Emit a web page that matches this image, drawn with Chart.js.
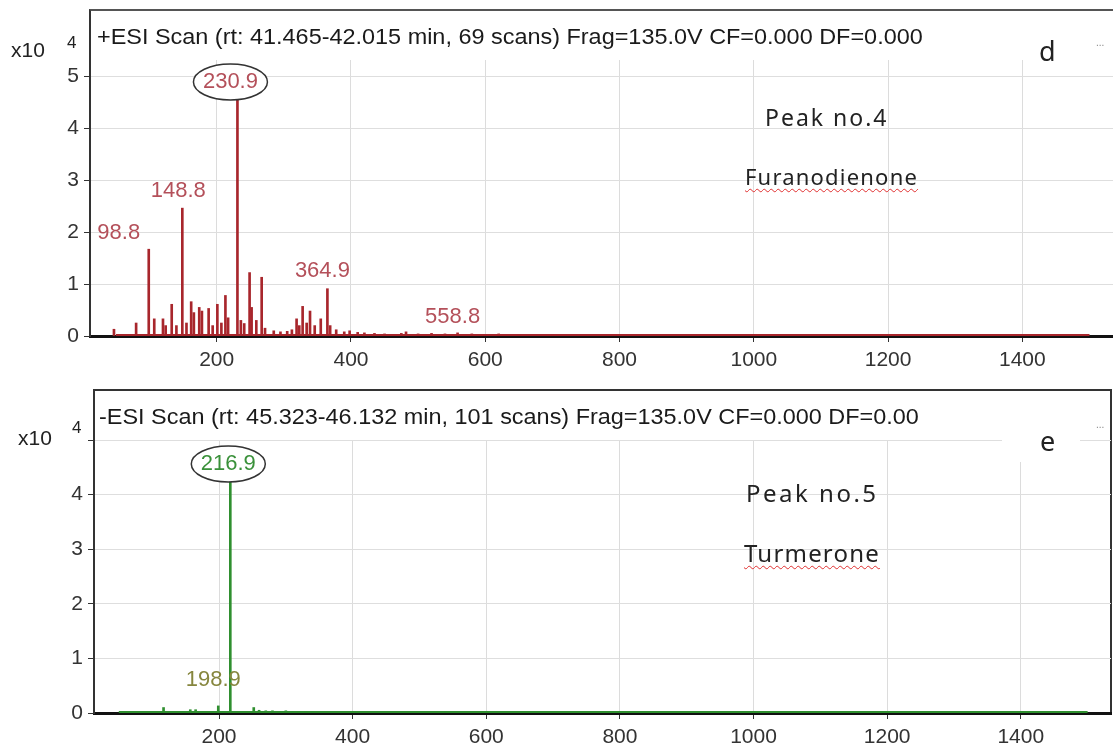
<!DOCTYPE html>
<html>
<head>
<meta charset="utf-8">
<script src="https://cdn.jsdelivr.net/npm/chart.js@4.4.1/dist/chart.umd.min.js"></script>
<style>
  body { margin: 0; background: #fff; width: 1113px; height: 756px; overflow: hidden; position: relative; font-family: "Liberation Sans", Arial, sans-serif; color: #222; }
  canvas { position: absolute; left: 0; }
  .box { position: absolute; box-sizing: border-box; }
  .txt { position: absolute; white-space: nowrap; line-height: 1; }
  .title { font-size: 22px; transform: scaleX(1.065); transform-origin: left center; color: #1a1a1a; }
  .note { font-family: "Noto Sans", sans-serif; color: #222; }
  .wavy { text-decoration: underline wavy #e03030; text-decoration-thickness: 1px; text-underline-offset: 3px; }
</style>
</head>
<body>
<div class="box" style="left:89px;top:9px;width:1040px;height:328px;border-top:2px solid #555;border-left:2px solid #333;"></div>
<div class="box" style="left:93px;top:389px;width:1019px;height:326px;border:2px solid #333;border-bottom:none;"></div>

<canvas id="chartTop" width="1113" height="376" style="top:0"></canvas>
<canvas id="chartBottom" width="1113" height="376" style="top:380px"></canvas>

<div class="txt title" style="left:97px;top:26px;">+ESI Scan (rt: 41.465-42.015 min, 69 scans) Frag=135.0V CF=0.000 DF=0.000</div>
<div class="txt title" style="left:99px;top:406px;">-ESI Scan (rt: 45.323-46.132 min, 101 scans) Frag=135.0V CF=0.000 DF=0.00</div>

<div class="txt" style="left:11px;top:39px;font-size:21px;">x10</div>
<div class="txt" style="left:67px;top:34px;font-size:17px;">4</div>
<div class="txt" style="left:18px;top:427px;font-size:21px;">x10</div>
<div class="txt" style="left:72px;top:419px;font-size:17px;">4</div>

<div class="txt" style="left:1039px;top:37px;font-size:27px;font-family:'Noto Sans',sans-serif;">d</div>
<div class="txt" style="left:1096px;top:38px;font-size:10px;color:#888;">...</div>
<div class="txt" style="left:1002px;top:420px;width:78px;height:42px;background:#fff;"></div>
<div class="txt" style="left:1040px;top:427px;font-size:27px;font-family:'Noto Sans',sans-serif;">e</div>
<div class="txt" style="left:1096px;top:420px;font-size:10px;color:#888;">...</div>

<div class="txt note" style="left:765px;top:106px;font-size:23px;letter-spacing:2px;">Peak no.4</div>
<div class="txt note wavy" style="left:745px;top:165px;font-size:22px;letter-spacing:1.2px;">Furanodienone</div>
<div class="txt note" style="left:746px;top:481px;font-size:24px;letter-spacing:2.5px;">Peak no.5</div>
<div class="txt note wavy" style="left:744px;top:541px;font-size:24px;letter-spacing:1.2px;">Turmerone</div>

<script>
// top spectrum, positive mode (m/z, counts x10^4)
const topMz = [47, 80, 98.8, 107, 120, 124, 133, 140, 148.8, 155,
  162, 166, 174, 178, 188, 194, 201, 207, 213, 217,
  230.9, 236, 241, 249, 252, 259, 267, 272, 285, 295,
  305, 312, 319, 323, 328, 334, 339, 346, 355, 364.9,
  369, 378, 390, 398, 410, 420, 435, 450, 475, 482,
  500, 520, 540, 558.8, 580, 600, 620, 650, 700];
const topInt = [0.13, 0.25, 1.67, 0.33, 0.33, 0.2, 0.61, 0.2, 2.46, 0.25,
  0.66, 0.45, 0.55, 0.48, 0.53, 0.2, 0.61, 0.25, 0.78, 0.35,
  4.8, 0.3, 0.24, 1.22, 0.55, 0.3, 1.13, 0.15, 0.1, 0.08,
  0.09, 0.12, 0.33, 0.2, 0.57, 0.25, 0.48, 0.2, 0.33, 0.91,
  0.2, 0.12, 0.08, 0.1, 0.07, 0.06, 0.05, 0.04, 0.05, 0.08,
  0.04, 0.05, 0.04, 0.06, 0.04, 0.03, 0.04, 0.03, 0.03];

// bottom spectrum, negative mode
const botMz = [60, 117, 157, 165, 198.9, 216.9, 252, 260, 270, 280, 290, 300, 310, 320, 330, 340, 539];
const botInt = [0.02, 0.1, 0.06, 0.06, 0.13, 4.4, 0.1, 0.05, 0.04, 0.04, 0.03, 0.04, 0.03, 0.03, 0.03, 0.02, 0.03];

// baseline trace
const baseMz = [50, 1500];
const baseInt = [0.02, 0.02];

const xTicks = [200, 400, 600, 800, 1000, 1200, 1400];
const topYTicks = [0, 1, 2, 3, 4, 5];
const botYTicks = [0, 1, 2, 3, 4, 5];

const toPoints = (xs, ys) => xs.map((x, i) => ({ x: x, y: ys[i] }));

const peakLabels = {
  id: "peakLabels",
  afterDatasetsDraw(chart, args, opts) {
    const ctx = chart.ctx;
    const xs = chart.scales.x, ys = chart.scales.y;
    ctx.save();
    ctx.font = "22px 'Liberation Sans', Arial, sans-serif";
    ctx.textAlign = "center";
    ctx.textBaseline = "middle";
    opts.items.forEach((it) => {
      const i = opts.mz.indexOf(it.mz);
      const h = opts.ints[i];
      const px = xs.getPixelForValue(it.mz) + it.dx;
      const py = it.fixedY !== undefined ? it.fixedY : ys.getPixelForValue(h) + it.dy;
      if (it.ellipse) {
        ctx.beginPath();
        ctx.ellipse(px, py, 37, 18, 0, 0, Math.PI * 2);
        ctx.fillStyle = "#fff";
        ctx.fill();
        ctx.lineWidth = 1.5;
        ctx.strokeStyle = "#333";
        ctx.stroke();
      }
      ctx.fillStyle = it.color;
      ctx.fillText(it.mz.toFixed(1), px, py);
    });
    ctx.restore();
  },
};

function makeChart(id, cfg) {
  return new Chart(document.getElementById(id), {
    type: "bar",
    data: {
      datasets: [
        {
          type: "line",
          data: toPoints(baseMz, baseInt),
          borderColor: cfg.color,
          borderWidth: 2,
          pointRadius: 0,
          order: 2,
        },
        {
          data: toPoints(cfg.mz, cfg.ints),
          backgroundColor: cfg.color,
          barThickness: 2,
          order: 1,
        },
      ],
    },
    options: {
      responsive: false,
      animation: false,
      layout: { padding: { top: 60, right: cfg.padRight, left: 0, bottom: 0 } },
      plugins: {
        legend: { display: false },
        tooltip: { enabled: false },
        peakLabels: { items: cfg.labels, mz: cfg.mz, ints: cfg.ints },
      },
      scales: {
        x: {
          type: "linear",
          min: cfg.xMin,
          max: cfg.xMax,
          offset: false,
          afterBuildTicks: (s) => { s.ticks = xTicks.map((v) => ({ value: v })); },
          afterFit: (s) => { s.height = cfg.xAxisH; },
          grid: { offset: false, color: "#dcdcdc", tickColor: "#333", tickLength: 6 },
          border: { color: "#111", width: 3 },
          ticks: {
            color: "#333",
            font: { size: 21, family: "'Liberation Sans', Arial, sans-serif" },
            padding: 6,
            maxRotation: 0,
            callback: (v) => String(v),
          },
        },
        y: {
          min: 0,
          max: cfg.yMax,
          afterBuildTicks: (s) => { s.ticks = cfg.yTicks.map((v) => ({ value: v })); },
          afterFit: (s) => { s.width = cfg.yAxisW; },
          grid: { color: "#dedede", tickColor: "#333", tickLength: 6 },
          border: { color: "#333", width: 2 },
          ticks: {
            color: "#333",
            font: { size: 21, family: "'Liberation Sans', Arial, sans-serif" },
            padding: 5,
            callback: (v) => (cfg.hideTop && v === 5 ? "" : String(v)),
          },
        },
      },
    },
    plugins: [peakLabels],
  });
}

makeChart("chartTop", {
  color: "#a8262c",
  mz: topMz,
  ints: topInt,
  xMin: 11.3,
  xMax: 1535,
  yMax: 5.31,
  yTicks: topYTicks,
  yAxisW: 90,
  xAxisH: 40,
  padRight: 0,
  hideTop: false,
  labels: [
    { mz: 98.8, dx: -30, dy: -16, color: "#b4505a" },
    { mz: 148.8, dx: -4, dy: -17, color: "#b4505a" },
    { mz: 230.9, dx: -7, fixedY: 82, color: "#b4505a", ellipse: true },
    { mz: 364.9, dx: -5, dy: -18, color: "#b4505a" },
    { mz: 558.8, dx: -5, dy: -16, color: "#b4505a" },
  ],
});

makeChart("chartBottom", {
  color: "#2f8f2f",
  mz: botMz,
  ints: botInt,
  xMin: 12.9,
  xMax: 1535,
  yMax: 5,
  yTicks: botYTicks,
  yAxisW: 94,
  xAxisH: 43,
  padRight: 2,
  hideTop: true,
  labels: [
    { mz: 198.9, dx: -5, dy: -26, color: "#86863e" },
    { mz: 216.9, dx: -2, fixedY: 84, color: "#3a913a", ellipse: true },
  ],
});
</script>
</body>
</html>
